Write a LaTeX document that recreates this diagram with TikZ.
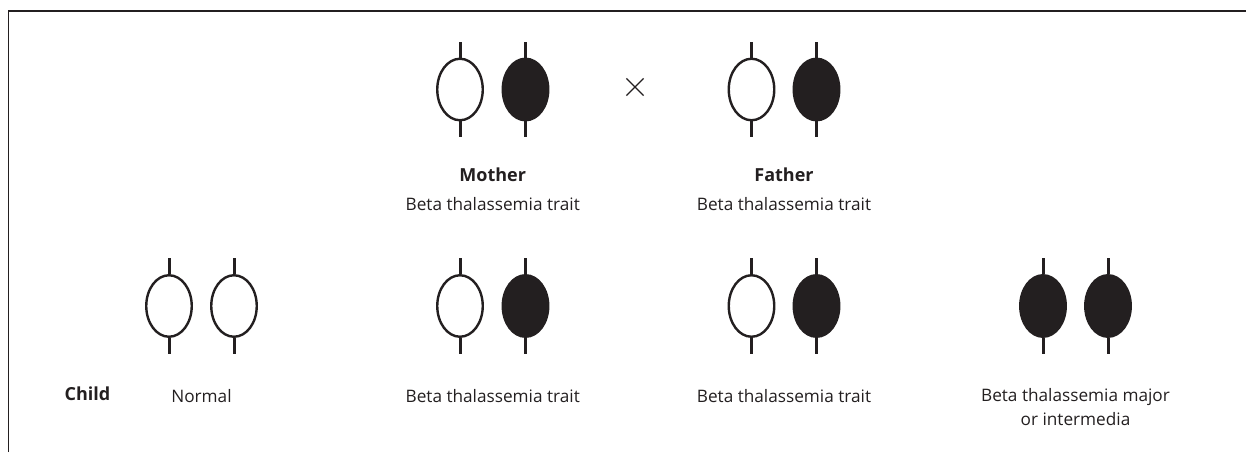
\documentclass[tikz,border=0pt]{standalone}
\usepackage{fontspec}
\setmainfont{Open Sans}
\usetikzlibrary{shapes.geometric,shapes.misc}
\definecolor{ink}{HTML}{231F20}

\begin{document}
\begin{tikzpicture}[x=1pt, y=-1pt,
    allele/.style={draw=ink, shape=ellipse, line width=2.4pt, inner sep=0,
      minimum width=45.5pt, minimum height=61.5pt},
    plain allele/.style={allele, fill=white},
    beta allele/.style={allele, fill=ink},
    stalk/.style={draw=ink, line width=3pt},
    label text/.style={text=ink, anchor=base, font=\fontsize{17.2}{23.5}\selectfont},
    name text/.style={label text, font=\fontsize{18}{23.5}\selectfont\bfseries}]

    \useasboundingbox (0,0) rectangle (1246,452);

    % Frame
    \draw[ink, line width=1.5pt] (8.5,452) -- (8.5,11) -- (1246,11);

    % Parents
    \node[plain allele] (M1) at (460,89.5) {};
    \node[beta allele] (M2) at (525.5,89.5) {};
    \node[plain allele] (F1) at (751.5,89.5) {};
    \node[beta allele] (F2) at (816.5,89.5) {};
    \node[cross out, draw=ink, line width=1.2pt, inner sep=0,
    minimum size=16pt] (cross) at (635,87) {};

    % Children
    \node[plain allele] (A1) at (169,306) {};
    \node[plain allele] (A2) at (234,306) {};
    \node[plain allele] (B1) at (460,306) {};
    \node[beta allele] (B2) at (525.5,306) {};
    \node[plain allele] (C1) at (751.5,306) {};
    \node[beta allele] (C2) at (816.5,306) {};
    \node[beta allele] (D1) at (1043,306) {};
    \node[beta allele] (D2) at (1108,306) {};

    % Stalks
    \foreach \x in {M1, M2, F1, F2, A1, A2, B1, B2, C1, C2, D1, D2}
        \draw[stalk] (\x.north) -- ++(0,-16) (\x.south) -- ++(0,16);

    % Labels
    \node[name text] (mother) at (492.75,181.5) {Mother};
    \node[label text] (mothertrait) at (492.75,210) {Beta thalassemia trait};
    \node[name text] (father) at (784,181.5) {Father};
    \node[label text] (fathertrait) at (784,210) {Beta thalassemia trait};

    \node[name text] (child) at (87.5,400) {Child};
    \node[label text] (normal) at (201.5,402) {Normal};
    \node[label text] (trait1) at (492.75,402) {Beta thalassemia trait};
    \node[label text] (trait2) at (784,402) {Beta thalassemia trait};
    \node[label text, align=center] (major) at (1075.5,425)
    {Beta thalassemia major\\or intermedia};

\end{tikzpicture}
\end{document}
